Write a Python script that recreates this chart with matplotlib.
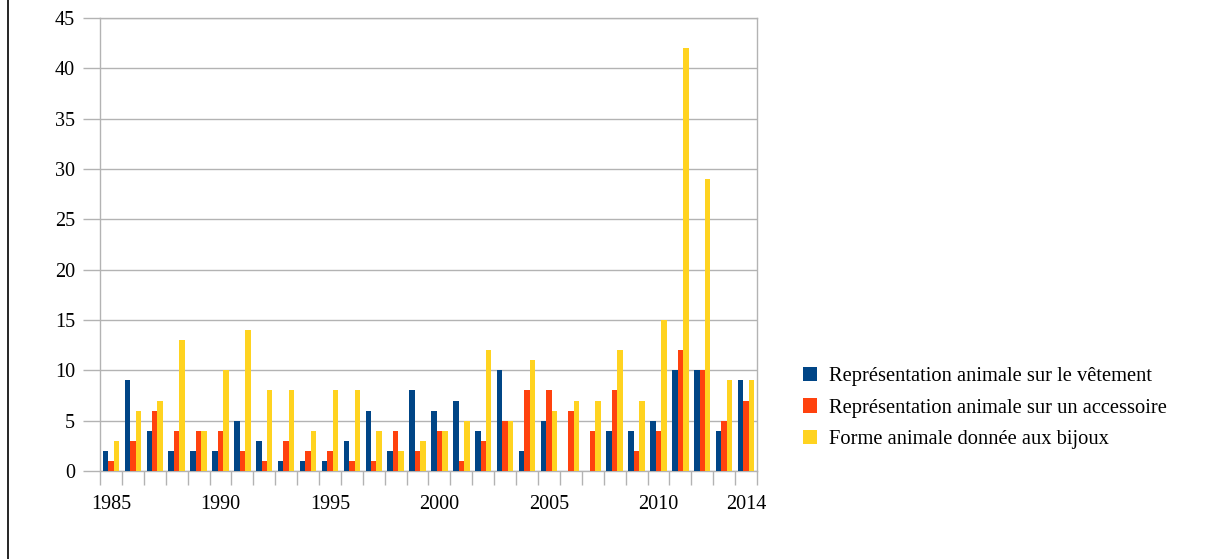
import matplotlib.pyplot as plt
from matplotlib.lines import Line2D
import numpy as np

plt.rcParams['font.family'] = ['Liberation Serif', 'DejaVu Serif']

years = list(range(1985, 2015))
vetement = [2, 9, 4, 2, 2, 2, 5, 3, 1, 1, 1, 3, 6, 2, 8, 6, 7, 4, 10, 2,
            5, 0, 0, 4, 4, 5, 10, 10, 4, 9]
accessoire = [1, 3, 6, 4, 4, 4, 2, 1, 3, 2, 2, 1, 1, 4, 2, 4, 1, 3, 5, 8,
              8, 6, 4, 8, 2, 4, 12, 10, 5, 7]
bijoux = [3, 6, 7, 13, 4, 10, 14, 8, 8, 4, 8, 8, 4, 2, 3, 4, 5, 12, 5, 11,
          6, 7, 7, 12, 7, 15, 42, 29, 9, 9]
labels = ["Représentation animale sur le vêtement",
          "Représentation animale sur un accessoire",
          "Forme animale donnée aux bijoux"]
colors = ["#004586", "#ff420e", "#ffd320"]
shown_years = [1985, 1990, 1995, 2000, 2005, 2010, 2014]

W, H = 1217, 559
fig = plt.figure(figsize=(W / 100, H / 100), dpi=100)
ax = fig.add_axes([100 / W, 88 / H, 657 / W, 453 / H])

x = np.arange(len(years))
bw = 0.25
for i, (vals, lab, col) in enumerate(zip([vetement, accessoire, bijoux], labels, colors)):
    ax.bar(x + (i - 1) * bw, vals, width=bw, color=col, label=lab, zorder=3)

ax.set_xlim(-0.5, len(years) - 0.5)
ax.set_ylim(0, 45)
ax.set_yticks(range(0, 46, 5))
ax.yaxis.grid(True, color="#b3b3b3", lw=1, zorder=0)

# boundary ticks between categories, labels on selected years
ax.set_xticks(np.arange(len(years) + 1) - 0.5)
ax.set_xticklabels([])
ax.set_xticks([years.index(y) for y in shown_years], minor=True)
ax.set_xticklabels([str(y) for y in shown_years], minor=True)
ax.tick_params(axis="x", which="major", length=10, color="#b3b3b3", width=1)
ax.tick_params(axis="x", which="minor", length=0, pad=17, labelsize=14.5)
ax.tick_params(axis="y", length=12, color="#b3b3b3", width=1, labelsize=14.5, pad=6)

for s in ax.spines.values():
    s.set_color("#b3b3b3")
    s.set_linewidth(1)

leg = ax.legend(loc="center left", bbox_to_anchor=(784 / W, (H - 408) / H),
                bbox_transform=fig.transFigure, frameon=False, fontsize=14.8,
                handlelength=0.7, handleheight=0.7, handletextpad=0.6,
                labelspacing=0.6)

fig.add_artist(Line2D([7.5 / W, 7.5 / W], [0, 1], color="black", lw=1.2))

fig.savefig("out.png", dpi=100)
